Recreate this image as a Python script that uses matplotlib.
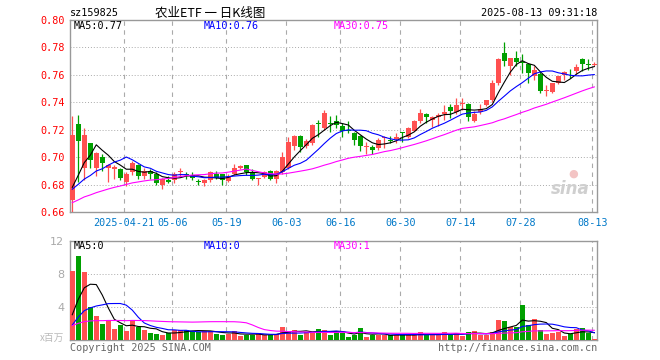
import numpy as np
import pandas as pd
import matplotlib
matplotlib.use('Agg')
import matplotlib.pyplot as plt

# daily candles, 2025-04-08 .. 2025-08-13
opens = [0.669, 0.724, 0.692, 0.710, 0.692, 0.700, 0.692, 0.6915, 0.691, 0.682,
         0.689, 0.694, 0.686, 0.690, 0.688, 0.680, 0.6835, 0.683, 0.689, 0.688,
         0.687, 0.6825, 0.681, 0.683, 0.688, 0.6875, 0.6825, 0.688, 0.692, 0.694,
         0.689, 0.6837, 0.6852, 0.690, 0.684, 0.689, 0.692, 0.7084, 0.7153, 0.708,
         0.7104, 0.7248, 0.7215, 0.7248, 0.726, 0.7228, 0.7198, 0.7175, 0.7155, 0.7073,
         0.7073, 0.7066, 0.7136, 0.7126, 0.7131, 0.718, 0.7146, 0.7194, 0.7267, 0.7315,
         0.7272, 0.7296, 0.7313, 0.7368, 0.7332, 0.7388, 0.7385, 0.7266, 0.7328, 0.7378,
         0.7415, 0.7539, 0.7758, 0.7668, 0.7725, 0.7693, 0.7676, 0.7594, 0.7609, 0.7484,
         0.7477, 0.7544, 0.7601, 0.7621, 0.7626, 0.7718, 0.7676, 0.7673]
highs = [0.730, 0.731, 0.721, 0.710, 0.704, 0.702, 0.695, 0.694, 0.692, 0.689,
         0.697, 0.695, 0.692, 0.691, 0.689, 0.685, 0.686, 0.689, 0.692, 0.689,
         0.689, 0.684, 0.684, 0.690, 0.690, 0.688, 0.6875, 0.695, 0.6945, 0.694,
         0.6915, 0.685, 0.690, 0.6905, 0.6905, 0.7035, 0.7148, 0.7165, 0.716, 0.713,
         0.7245, 0.727, 0.7345, 0.730, 0.7308, 0.725, 0.726, 0.7185, 0.716, 0.7114,
         0.709, 0.7138, 0.7155, 0.7155, 0.7175, 0.7185, 0.7218, 0.7272, 0.735, 0.7325,
         0.730, 0.732, 0.738, 0.7388, 0.743, 0.743, 0.7395, 0.734, 0.739, 0.742,
         0.7559, 0.7725, 0.7842, 0.7725, 0.7775, 0.775, 0.7688, 0.7663, 0.7626, 0.7527,
         0.7544, 0.7594, 0.7626, 0.7643, 0.7676, 0.7725, 0.7718, 0.7693]
lows = [0.660, 0.682, 0.683, 0.692, 0.686, 0.690, 0.682, 0.684, 0.683, 0.679,
        0.687, 0.684, 0.684, 0.684, 0.680, 0.677, 0.681, 0.681, 0.686, 0.684,
        0.683, 0.680, 0.679, 0.682, 0.684, 0.6795, 0.682, 0.687, 0.691, 0.687,
        0.6835, 0.680, 0.6845, 0.6835, 0.681, 0.688, 0.691, 0.7055, 0.704, 0.707,
        0.709, 0.715, 0.720, 0.718, 0.721, 0.715, 0.7175, 0.709, 0.7048, 0.7024,
        0.7024, 0.7053, 0.7066, 0.710, 0.710, 0.7107, 0.7138, 0.7187, 0.7252, 0.7247,
        0.7223, 0.7228, 0.7272, 0.7284, 0.7315, 0.7345, 0.726, 0.7253, 0.7316, 0.737,
        0.7403, 0.7527, 0.7668, 0.760, 0.7663, 0.7614, 0.7544, 0.7564, 0.7465, 0.7445,
        0.7465, 0.7534, 0.7564, 0.7576, 0.7609, 0.7626, 0.7638, 0.7663]
closes = [0.716, 0.712, 0.716, 0.698, 0.703, 0.696, 0.694, 0.693, 0.685, 0.688,
          0.696, 0.686, 0.690, 0.688, 0.681, 0.684, 0.682, 0.688, 0.690, 0.687,
          0.685, 0.682, 0.683, 0.689, 0.685, 0.683, 0.686, 0.692, 0.6935, 0.689,
          0.684, 0.6846, 0.6893, 0.6844, 0.690, 0.700, 0.711, 0.7153, 0.7074, 0.7116,
          0.7232, 0.7242, 0.732, 0.724, 0.7235, 0.7187, 0.719, 0.7126, 0.7078, 0.7077,
          0.7053, 0.7126, 0.7146, 0.712, 0.715, 0.7175, 0.7211, 0.7267, 0.7325, 0.7296,
          0.7291, 0.731, 0.7327, 0.7337, 0.738, 0.7393, 0.729, 0.7316, 0.7353, 0.7415,
          0.7544, 0.7718, 0.7701, 0.772, 0.7693, 0.7683, 0.7614, 0.7639, 0.7484, 0.749,
          0.7539, 0.7589, 0.7618, 0.7618, 0.7658, 0.7676, 0.767, 0.768]
# volume in millions
volumes = [8.28, 10.2, 8.16, 3.96, 2.9, 1.94, 2.42, 1.33, 1.82, 1.1,
           2.3, 1.6, 1.2, 0.9, 0.73, 0.6, 0.8, 1.2, 1.2, 1.2,
           1.1, 1.0, 1.1, 1.1, 0.73, 0.6, 0.73, 1.1, 0.5, 0.6,
           0.6, 0.8, 0.6, 0.6, 0.7, 1.6, 1.13, 1.2, 0.6, 1.0,
           1.0, 1.33, 1.2, 0.6, 1.1, 0.9, 0.4, 0.6, 1.5, 0.4,
           0.6, 0.6, 0.6, 0.6, 0.6, 0.6, 0.6, 0.6, 1.0, 0.6,
           0.6, 0.6, 1.0, 0.6, 0.9, 0.5, 1.0, 1.13, 0.6, 0.6,
           1.0, 2.42, 2.3, 1.54, 1.54, 4.24, 1.8, 2.55, 1.2, 0.73,
           0.8, 1.0, 0.5, 0.73, 1.33, 1.4, 0.9, 0.12]

# sessions before the window (not drawn, only feed the moving averages; estimated)
prev_closes = [0.652, 0.650, 0.655, 0.653, 0.656, 0.654, 0.657, 0.655, 0.654,
               0.662, 0.665, 0.668, 0.670, 0.672, 0.669, 0.671, 0.668, 0.667, 0.670, 0.670,
               0.676, 0.678, 0.672, 0.670, 0.680,
               0.668, 0.670, 0.671, 0.665]
prev_volumes = [1.9, 2.0, 1.5, 1.8, 2.1, 1.6, 1.4, 1.9, 1.7, 1.5,
                1.8, 1.6, 1.7, 2.0, 1.5, 1.6, 1.8, 1.5, 1.6, 1.5,
                0.6, 0.5, 0.6, 0.6, 0.6, 0.9, 1.2, 1.8, 3.1]

tick_pos = [9, 17, 26, 36, 45, 55, 65, 75, 87]
tick_labels = ['2025-04-21', '05-06', '05-19', '06-03', '06-16', '06-30', '07-14', '07-28', '08-13']

up_color = '#ff5050'
down_color = '#00a000'
ma_colors = ['black', '#0000ff', '#ff00ff']
grid_color = '#aaaaaa'
mono = 'DejaVu Sans Mono'

n_prev = len(prev_closes)
c_all = pd.Series(prev_closes + closes)
v_all = pd.Series(prev_volumes + volumes)
price_ma = [c_all.rolling(w).mean().values[n_prev:] for w in (5, 10, 30)]
vol_ma = [v_all.rolling(w).mean().values[n_prev:] for w in (5, 10, 30)]

x = np.arange(len(closes))
o = np.array(opens)
c = np.array(closes)
colors = [up_color if cc >= oo else down_color for oo, cc in zip(o, c)]

W, H = 660, 360
fig = plt.figure(figsize=(W / 100, H / 100), dpi=100)
ax1 = fig.add_axes([70 / W, 1 - 212 / H, 527 / W, 192 / H])
ax2 = fig.add_axes([70 / W, 1 - 340 / H, 527 / W, 99.3 / H])

xlim = (-0.38, 87.45)
grid_x = [p - 0.33 for p in tick_pos]

# price panel
ax1.vlines(x, lows, highs, colors=colors, linewidth=0.9, zorder=3)
body_bottom = np.minimum(o, c)
body_h = np.maximum(np.abs(c - o), 0.0005)
ax1.bar(x, body_h, bottom=body_bottom, width=0.82, color=colors, linewidth=0, zorder=4)
for ma, col in zip(price_ma, ma_colors):
    ax1.plot(x, ma, color=col, linewidth=0.8, zorder=5)

ax1.set_xlim(*xlim)
ax1.set_ylim(0.66, 0.80)
yt = np.arange(0.66, 0.8001, 0.02)
ax1.set_yticks(yt)
ax1.set_yticklabels([f'{v:.2f}' for v in yt], color='red', family=mono, fontsize=7.3)
for v in yt[1:-1]:
    ax1.axhline(v, color=grid_color, linestyle=(0, (1, 2)), linewidth=0.7, zorder=1)
for gx in grid_x:
    ax1.axvline(gx, color=grid_color, linestyle=(0, (4, 4)), linewidth=0.8, zorder=1)
ax1.set_xticks(grid_x)
ax1.set_xticklabels(tick_labels, color='#0078c8', family=mono, fontsize=7.3)
ax1.tick_params(length=0, pad=4)

ax1.text(0.985, 0.12, 'sina', transform=ax1.transAxes, ha='right', va='center',
         fontsize=12, fontweight='bold', style='italic', color='#cfcfcf', zorder=2)
ax1.text(0.955, 0.2, '●', transform=ax1.transAxes, ha='center', va='center',
         fontsize=8, color='#f3c4c4', zorder=2)

# volume panel
ax2.bar(x, volumes, width=0.82, color=colors, linewidth=0, zorder=3)
for ma, col in zip(vol_ma, ma_colors):
    ax2.plot(x, ma, color=col, linewidth=0.8, zorder=5)
ax2.set_xlim(*xlim)
ax2.set_ylim(0, 12)
ax2.set_yticks([4, 8, 12])
ax2.set_yticklabels(['4', '8', '12'], color='#aaaaaa', fontsize=8)
for v in (4, 8):
    ax2.axhline(v, color=grid_color, linestyle=(0, (1, 2)), linewidth=0.7, zorder=1)
for gx in grid_x:
    ax2.axvline(gx, color=grid_color, linestyle=(0, (4, 4)), linewidth=0.8, zorder=1)
ax2.set_xticks([])
ax2.tick_params(length=0, pad=4)

for ax in (ax1, ax2):
    for s in ax.spines.values():
        s.set_color('#999999')
        s.set_linewidth(1)

# texts
def ftext(px, py, s, **kw):
    fig.text(px / W, 1 - py / H, s, **kw)

ftext(70, 13, 'sz159825', family=mono, fontsize=7.3, va='center')
ftext(210, 13, '农业ETF 一 日K线图', family=['Noto Sans CJK SC', 'DejaVu Sans'],
      fontsize=9, ha='center', va='center')
ftext(597, 13, '2025-08-13 09:31:18', family=mono, fontsize=7.3, ha='right', va='center')

ftext(74, 26, f'MA5:{price_ma[0][-1]:.2f}', family=mono, fontsize=7.3, va='center', color=ma_colors[0])
ftext(204, 26, f'MA10:{price_ma[1][-1]:.2f}', family=mono, fontsize=7.3, va='center', color=ma_colors[1])
ftext(334, 26, f'MA30:{price_ma[2][-1]:.2f}', family=mono, fontsize=7.3, va='center', color=ma_colors[2])

ftext(74, 246, f'MA5:{int(vol_ma[0][-1])}', family=mono, fontsize=7.3, va='center', color=ma_colors[0])
ftext(204, 246, f'MA10:{int(vol_ma[1][-1])}', family=mono, fontsize=7.3, va='center', color=ma_colors[1])
ftext(334, 246, f'MA30:{int(vol_ma[2][-1])}', family=mono, fontsize=7.3, va='center', color=ma_colors[2])

ftext(64, 338, 'x百万', family=['Noto Sans CJK SC', 'DejaVu Sans'], fontsize=7,
      ha='right', va='center', color='#bbbbbb')
ftext(70, 348, 'Copyright 2025 SINA.COM', family=mono, fontsize=7.3, va='center', color='#666666')
ftext(597, 348, 'http://finance.sina.com.cn', family=mono, fontsize=7.3, ha='right',
      va='center', color='#666666')

fig.savefig('out.png', dpi=100, facecolor='white')
